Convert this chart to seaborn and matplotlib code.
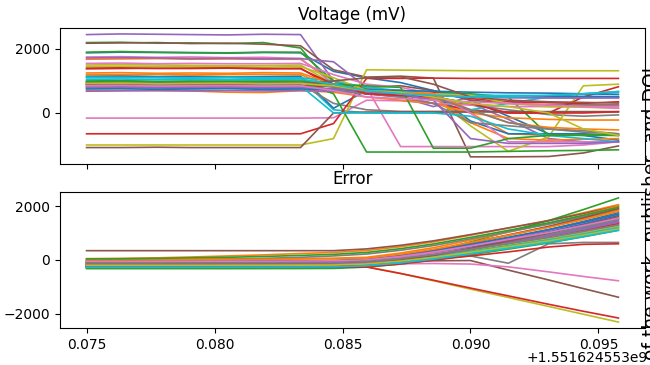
import matplotlib
matplotlib.use("Agg")
import matplotlib.pyplot as plt
from matplotlib.ticker import FuncFormatter
import seaborn as sns
import pandas as pd

T0 = 1551624553.0
offset_label = "+1.551624553e9"
time_offsets = [0.07500, 0.07633, 0.07777, 0.07906, 0.08051, 0.08191, 0.08336, 0.08465,
                0.08594, 0.08727, 0.08855, 0.09000, 0.09148, 0.09305, 0.09441, 0.09578]

voltage_series = [
    [1880,1900,1890,1880,1870,1890,1880,1300,1100,950,700,400,-100,-650,-700,-850],
    [1680,1690,1700,1680,1690,1680,1680,1000,600,550,450,0,-650,-700,-680,-700],
    [2200,2210,2180,2190,2170,2200,2030,810,750,700,650,550,500,480,470,500],
    [1380,1390,1400,1390,1400,1380,1400,800,600,500,300,100,0,0,500,820],
    [2450,2470,2460,2450,2440,2460,2450,1000,700,650,500,300,-200,-800,-900,-900],
    [2180,2190,2200,2170,2180,2150,2100,1350,1120,1150,1090,-1370,-1370,-1360,-1250,-1030],
    [1750,1760,1740,1750,1730,1740,1700,900,800,-1050,-1050,-1050,-1050,-1050,-1000,-900],
    [980,990,970,980,990,970,950,700,600,550,400,250,100,-50,-100,-60],
    [1500,1510,1500,1490,1480,1480,1500,900,700,600,500,-400,-1200,-750,850,900],
    [1100,1120,1100,1090,1100,1080,1080,100,0,0,0,100,300,500,600,670],
    [1150,1160,1140,1150,1130,1140,1150,150,700,650,600,-250,-650,-650,-650,-700],
    [1200,1200,1210,1190,1200,1210,1200,800,650,600,500,-300,-800,-850,-820,-800],
    [1900,1920,1900,1890,1880,1900,1900,1000,750,700,650,600,500,-700,-700,-700],
    [860,850,870,860,850,860,850,830,600,700,650,450,350,320,300,350],
    [1720,1730,1720,1700,1710,1690,1700,1600,800,500,200,500,480,490,500,480],
    [950,960,940,950,940,930,950,900,800,850,700,400,300,250,250,250],
    [-160,-160,-160,-160,-160,-160,-160,-150,400,380,300,250,200,200,200,200],
    [900,910,890,900,900,910,900,300,100,50,50,50,40,40,40,40],
    [-1000,-1000,-1000,-1000,-1000,-1000,-1000,-800,1350,1340,1330,1320,1320,1320,1320,1320],
    [1120,1100,1110,1100,1120,1100,1100,1000,800,700,600,550,550,550,600,640],
    [780,790,780,770,780,760,770,750,700,650,550,500,500,520,520,510],
    [700,710,700,690,650,640,700,650,500,400,300,0,-150,-200,-220,-220],
    [980,990,970,980,990,980,980,600,-1220,-1220,-1220,-1220,-1200,-1180,-1170,-1150],
    [-650,-650,-650,-650,-650,-650,-650,-330,1080,1080,1090,1080,1080,1080,1080,1080],
    [680,690,700,690,700,690,700,680,650,600,550,500,480,470,470,470],
    [-1080,-1080,-1070,-1080,-1080,-1080,-1080,0,30,30,30,30,40,40,40,40],
    [1550,1560,1540,1550,1540,1540,1550,1200,900,800,600,0,-900,-900,-900,-900],
    [820,830,810,820,800,820,800,700,600,500,300,-300,-400,-500,-550,-650],
    [1450,1460,1450,1440,1450,1430,1450,1100,700,650,600,550,300,200,180,150],
    [870,880,860,870,880,860,850,0,0,0,0,-100,-500,-700,-800,-900],
    [750,760,740,750,760,740,750,740,720,700,680,650,630,620,600,580],
    [1250,1260,1240,1250,1240,1260,1250,900,700,650,600,100,-300,-450,-500,-530],
    [1000,1010,990,1000,990,1000,1000,900,850,800,-1100,-1100,-800,-700,-690,-680],
    [1400,1410,1390,1400,1410,1390,1380,900,600,550,500,300,0,0,0,40],
    [800,810,790,800,810,790,800,750,700,600,400,-800,-950,-950,-950,-900],
    [900,910,890,900,890,900,910,1000,1100,1130,900,500,400,350,330,310],
    [850,860,840,850,860,840,850,700,500,450,400,350,300,250,200,150],
    [940,950,930,940,930,940,950,800,700,650,500,100,-300,-500,-600,-650],
    [920,930,910,920,930,910,920,850,700,650,500,300,200,0,-500,-700],
    [1050,1060,1040,1050,1040,1050,1060,900,700,600,550,500,500,550,600,670],
]

error_series = [
    [-150,-150,-150,-145,-145,-140,-130,-110,-74,78,268,534,819,1123,1427,1750],
    [50,60,80,110,150,190,240,280,351,492,669,917,1183,1466,1749,2050],
    [-250,-250,-250,-250,-250,-245,-240,-230,-148,56,311,668,1051,1459,1867,2300],
    [-200,-200,-200,-200,-198,-195,-190,-185,-136,-8,152,376,616,872,1128,1400],
    [-300,-300,-300,-300,-300,-298,-295,-290,-228,-84,96,348,618,906,1194,1500],
    [345,345,345,345,345,345,345,345,411,544,709,941,1189,1454,1719,2000],
    [-100,-100,-100,-98,-95,-92,-90,-85,-32,104,274,512,767,1039,1311,1600],
    [-180,-180,-180,-180,-178,-175,-170,-165,-150,-60,60,150,-120,600,650,650],
    [-250,-250,-250,-250,-250,-250,-250,-250,-250,-500,-770,-1080,-1390,-1720,-2010,-2300],
    [-280,-280,-280,-280,-278,-275,-272,-268,-219,-96,57,271,500,745,990,1250],
    [-200,-200,-200,-198,-195,-190,-185,-180,-126,22,207,466,744,1040,1336,1650],
    [20,22,25,30,36,44,54,66,99,258,456,733,1030,1347,1663,2000],
    [-320,-320,-320,-320,-320,-318,-316,-312,-263,-150,-8,191,404,631,859,1100],
    [-250,-250,-250,-250,-250,-250,-250,-250,-260,-500,-750,-1040,-1330,-1640,-1900,-2150],
    [-120,-120,-120,-118,-115,-110,-104,-96,-47,98,280,535,808,1099,1391,1700],
    [-60,-60,-60,-60,-60,-60,-60,-60,-60,-50,-30,-20,-375,-740,-1060,-1380],
    [-150,-150,-150,-150,-150,-150,-150,-150,-150,-140,-130,-150,-255,-440,-610,-770],
    [-20,-15,-5,10,30,60,100,150,220,360,535,780,1043,1323,1603,1900],
    [-180,-180,-180,-180,-178,-176,-172,-168,-125,-14,124,317,524,745,965,1200],
    [-240,-240,-240,-240,-238,-235,-232,-228,-184,-73,66,260,469,691,914,1150],
    [-160,-160,-160,-158,-156,-152,-148,-143,-92,45,216,456,712,986,1259,1550],
    [-60,-60,-58,-55,-50,-44,-36,-26,16,169,360,628,914,1220,1525,1850],
    [-210,-210,-210,-210,-208,-205,-200,-195,-150,-29,122,334,560,802,1043,1300],
    [-260,-260,-260,-260,-260,-260,-258,-255,-250,-150,0,150,300,480,580,600],
    [-140,-140,-140,-138,-135,-132,-128,-122,-76,51,210,432,671,925,1180,1450],
    [-80,-80,-78,-75,-70,-64,-56,-46,-1,158,356,633,930,1247,1563,1900],
    [-90,-90,-90,-88,-85,-82,-78,-73,-32,83,227,428,644,875,1105,1350],
    [-230,-230,-230,-230,-228,-225,-220,-214,-161,-22,151,393,652,929,1206,1500],
    [-120,-120,-120,-118,-116,-113,-109,-104,-65,44,181,373,579,798,1017,1250],
    [-190,-190,-190,-190,-188,-186,-183,-179,-134,-23,116,310,519,741,964,1200],
    [-50,-50,-48,-45,-40,-34,-26,-16,20,160,335,580,843,1123,1403,1700],
    [0,2,5,10,16,24,34,46,72,216,396,648,918,1206,1494,1800],
    [40,45,60,80,100,130,170,210,280,419,593,836,1097,1376,1654,1950],
    [-140,-140,-140,-138,-136,-132,-127,-120,-80,39,188,396,620,858,1097,1350],
    [-170,-170,-170,-168,-166,-162,-157,-150,-107,18,175,395,631,882,1133,1400],
    [-230,-230,-230,-228,-226,-222,-216,-208,-157,-10,173,429,703,996,1289,1600],
    [-60,-60,-58,-56,-52,-47,-40,-32,4,133,294,520,761,1019,1276,1550],
    [-110,-110,-110,-108,-106,-102,-97,-90,-54,59,200,398,609,835,1060,1300],
    [-200,-200,-200,-200,-198,-196,-192,-187,-146,-38,97,286,489,705,921,1150],
    [-270,-270,-270,-270,-268,-265,-261,-256,-215,-106,31,223,429,648,867,1100],
]

titles = ["Voltage (mV)", "Error"]
side_text = "of the work, publisher, and DOI"


def to_long(series):
    rows = []
    for i, vals in enumerate(series):
        for off, v in zip(time_offsets, vals):
            rows.append({"t": T0 + off, "value": v, "line": i})
    return pd.DataFrame(rows)


palette = [sns.color_palette("tab10")[i % 10] for i in range(40)]

fig = plt.figure(figsize=(6.5, 3.65), dpi=100)
ax1 = fig.add_axes([0.0923, 0.5507, 0.9, 0.3726])
ax2 = fig.add_axes([0.0923, 0.1014, 0.9, 0.3726], sharex=ax1)

for ax, series, title in [(ax1, voltage_series, titles[0]), (ax2, error_series, titles[1])]:
    df = to_long(series)
    sns.lineplot(data=df, x="t", y="value", hue="line", palette=palette,
                 estimator=None, legend=False, linewidth=1.2, ax=ax, sort=False)
    ax.set_title(title, fontsize=12)
    ax.set_xlabel("")
    ax.set_ylabel("")
    ax.tick_params(labelsize=10)

ax2.xaxis.set_major_formatter(FuncFormatter(lambda x, pos: f"{x - T0:.3f}"))
ax1.tick_params(labelbottom=False)
ax1.set_ylim(-1594, 2656)
ax2.set_ylim(-2520, 2520)
ax2.set_yticks([-2000, 0, 2000])

fig.text(648 / 650, 1 - 358 / 365, offset_label, ha="right", va="center", fontsize=10)
fig.text(642 / 650, 1 - 67 / 365, side_text, rotation=90, ha="left", va="top", fontsize=13.5)

fig.savefig("out.png", dpi=100)
